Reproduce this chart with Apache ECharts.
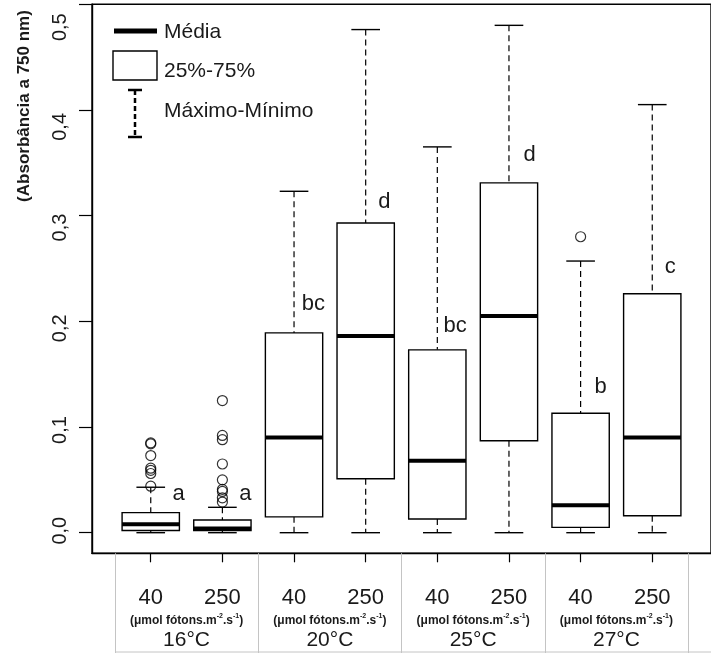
<!DOCTYPE html>
<html>
<head>
<meta charset="utf-8">
<script src="https://cdn.jsdelivr.net/npm/echarts@6/dist/echarts.min.js"></script>
<style>
html, body { margin: 0; padding: 0; background: #fff; }
#chart { width: 711px; height: 653px; }
</style>
</head>
<body>
<div id="chart"></div>
<script>
'use strict';
// categorias (luz) e grupos (temperatura)
var lightLabels = ['40', '250', '40', '250', '40', '250', '40', '250'];
var groupLabels = ['16°C', '20°C', '25°C', '27°C'];
var unitLabel = ['(μmol fótons.m', '-2', '.s', '-1', ')'];

// estatísticas das caixas
var mins    = [0.000, 0.000, 0.000, 0.000, 0.000, 0.000, 0.000, 0.000];
var q1s     = [0.002, 0.002, 0.015, 0.051, 0.013, 0.087, 0.005, 0.016];
var medians = [0.008, 0.004, 0.090, 0.186, 0.068, 0.205, 0.026, 0.090];
var q3s     = [0.019, 0.012, 0.189, 0.293, 0.173, 0.331, 0.113, 0.226];
var maxs    = [0.043, 0.024, 0.323, 0.476, 0.365, 0.480, 0.257, 0.405];

// pontos fora dos bigodes
var outlierCat = [1, 1, 1, 1, 1, 1, 1, 2, 2, 2, 2, 2, 2, 2, 2, 2, 7];
var outlierVal = [0.044, 0.056, 0.059, 0.061, 0.073, 0.084, 0.085,
                  0.029, 0.033, 0.039, 0.041, 0.050, 0.065, 0.088, 0.092, 0.125,
                  0.280];

// letras de significância
var letters = ['a', 'a', 'bc', 'd', 'bc', 'd', 'b', 'c'];
var letterX = [1.39, 2.32, 3.27, 4.26, 5.25, 6.29, 7.28, 8.25];
var letterY = [0.037, 0.037, 0.216, 0.313, 0.196, 0.357, 0.138, 0.251];

// rótulos do eixo y
var yTicks = [0, 0.1, 0.2, 0.3, 0.4, 0.5];
var yTickLabels = ['0,0', '0,1', '0,2', '0,3', '0,4', '0,5'];

var FONT = 'Liberation Sans, Arial, sans-serif';
var INK = '#1a1a1a';

var xPos = lightLabels.map(function (d, i) { return i + 1; });
var groupPos = groupLabels.map(function (d, i) { return i * 2 + 1.5; });
var groupEdges = [0.5, 2.5, 4.5, 6.5, 8.5];

var boxData = xPos.map(function (x, i) {
    return [x, mins[i], q1s[i], medians[i], q3s[i], maxs[i]];
});
var outlierData = outlierCat.map(function (c, i) { return [c, outlierVal[i]]; });
var letterData = letters.map(function (l, i) { return [letterX[i], letterY[i], l]; });

// deslocamento dos rótulos do eixo y (como no original)
var yLabelRich = {};
var yShift = [-2, 3, 7, 12, 17, 23];
yShift.forEach(function (s, i) {
    yLabelRich['s' + i] = {
        fontSize: 20,
        fontFamily: FONT,
        color: INK,
        padding: s >= 0 ? [0, 2 * s, 0, 0] : [0, 0, 0, -2 * s]
    };
});

function renderBox(params, api) {
    var x = api.value(0);
    var lo = api.coord([x, api.value(1)]);
    var b1 = api.coord([x, api.value(2)]);
    var md = api.coord([x, api.value(3)]);
    var b3 = api.coord([x, api.value(4)]);
    var hi = api.coord([x, api.value(5)]);
    var w = api.size([0.8, 0])[0];
    var cx = lo[0];
    var dash = { stroke: '#000', lineWidth: 1.2, lineDash: [6, 4] };
    var solid = { stroke: '#000', lineWidth: 1.4 };
    return {
        type: 'group',
        children: [
            { type: 'line', shape: { x1: cx, y1: hi[1], x2: cx, y2: b3[1] }, style: dash },
            { type: 'line', shape: { x1: cx, y1: b1[1], x2: cx, y2: lo[1] }, style: dash },
            { type: 'line', shape: { x1: cx - w / 4, y1: hi[1], x2: cx + w / 4, y2: hi[1] }, style: solid },
            { type: 'line', shape: { x1: cx - w / 4, y1: lo[1], x2: cx + w / 4, y2: lo[1] }, style: solid },
            { type: 'rect', shape: { x: cx - w / 2, y: b3[1], width: w, height: b1[1] - b3[1] },
              style: { fill: '#fff', stroke: '#000', lineWidth: 1.4 } },
            { type: 'line', shape: { x1: cx - w / 2, y1: md[1], x2: cx + w / 2, y2: md[1] },
              style: { stroke: '#000', lineWidth: 4 } }
        ]
    };
}

function renderLetter(params, api) {
    var p = api.coord([api.value(0), api.value(1)]);
    return {
        type: 'text',
        x: p[0],
        y: p[1],
        style: {
            text: letterData[params.dataIndex][2],
            font: '22px ' + FONT,
            fill: INK,
            align: 'center',
            verticalAlign: 'middle'
        }
    };
}

var chart = echarts.init(document.getElementById('chart'));
var option = {
    animation: false,
    backgroundColor: '#fff',
    grid: {
        show: true,
        left: 92,
        top: 4.2,
        right: -10,
        bottom: 99.7,
        borderColor: '#000',
        borderWidth: 1.4,
        backgroundColor: 'transparent'
    },
    xAxis: [{
        type: 'value',
        min: 0.18,
        max: 8.82,
        splitLine: { show: false },
        axisLine: { show: true, onZero: false, lineStyle: { color: '#000', width: 1.4 } },
        axisTick: { show: true, customValues: xPos, length: 9, lineStyle: { color: '#000', width: 1.2 } },
        axisLabel: {
            customValues: xPos,
            margin: 33,
            fontSize: 22,
            fontFamily: FONT,
            color: INK,
            lineHeight: 24,
            formatter: function (v) { return lightLabels[Math.round(v) - 1]; }
        }
    }, {
        type: 'value',
        min: 0.18,
        max: 8.82,
        position: 'bottom',
        splitLine: { show: false },
        axisLine: { show: false, onZero: false },
        axisTick: { show: true, customValues: groupEdges, length: 100, lineStyle: { color: '#c4c4c4', width: 1 } },
        axisLabel: {
            customValues: groupPos,
            margin: 59,
            formatter: function (v) {
                var g = groupLabels[Math.round((v - 1.5) / 2)];
                return '{u|' + unitLabel[0] + '}{p|' + unitLabel[1] + '}{u|' + unitLabel[2] +
                    '}{p|' + unitLabel[3] + '}{u|' + unitLabel[4] + '}\n{t|' + g + '}';
            },
            rich: {
                u: { fontSize: 12, fontWeight: 'bold', fontFamily: FONT, color: INK, lineHeight: 16 },
                p: { fontSize: 7, fontWeight: 'bold', fontFamily: FONT, color: INK, lineHeight: 16, verticalAlign: 'top' },
                t: { fontSize: 21, fontFamily: FONT, color: INK, lineHeight: 24 }
            }
        }
    }],
    yAxis: {
        type: 'value',
        min: -0.0195,
        max: 0.5,
        splitLine: { show: false },
        axisLine: { show: true, lineStyle: { color: '#000', width: 1.4 } },
        axisTick: { show: true, customValues: yTicks, length: 13, lineStyle: { color: '#000', width: 1.2 } },
        axisLabel: {
            customValues: yTicks,
            rotate: 90,
            margin: 22,
            fontSize: 20,
            fontFamily: FONT,
            color: INK,
            formatter: function (v) {
                var i = Math.round(v * 10);
                return '{s' + i + '|' + yTickLabels[i] + '}';
            },
            rich: yLabelRich
        }
    },
    graphic: [
        {
            type: 'text', x: 24, y: 106, rotation: Math.PI / 2,
            style: { text: '(Absorbância a 750 nm)', font: 'bold 17px ' + FONT, fill: INK, align: 'center', verticalAlign: 'middle' }
        },
        // legenda
        { type: 'line', shape: { x1: 114, y1: 31, x2: 157, y2: 31 }, style: { stroke: '#000', lineWidth: 5 } },
        { type: 'text', x: 164, y: 32, style: { text: 'Média', font: '21px ' + FONT, fill: INK, verticalAlign: 'middle' } },
        { type: 'rect', shape: { x: 113, y: 51, width: 44, height: 29 }, style: { fill: '#fff', stroke: '#000', lineWidth: 1.4 } },
        { type: 'text', x: 164, y: 71, style: { text: '25%-75%', font: '21px ' + FONT, fill: INK, verticalAlign: 'middle' } },
        { type: 'line', shape: { x1: 135, y1: 90, x2: 135, y2: 137 }, style: { stroke: '#000', lineWidth: 2.5, lineDash: [5, 3] } },
        { type: 'line', shape: { x1: 128, y1: 90, x2: 142, y2: 90 }, style: { stroke: '#000', lineWidth: 2.5 } },
        { type: 'line', shape: { x1: 128, y1: 137, x2: 142, y2: 137 }, style: { stroke: '#000', lineWidth: 2.5 } },
        { type: 'text', x: 164, y: 111, style: { text: 'Máximo-Mínimo', font: '21px ' + FONT, fill: INK, verticalAlign: 'middle' } },
        // borda inferior do painel de rótulos
        { type: 'line', shape: { x1: 115, y1: 652, x2: 711, y2: 652 }, style: { stroke: '#c4c4c4', lineWidth: 1 } }
    ],
    series: [{
        name: 'caixas',
        type: 'custom',
        renderItem: renderBox,
        encode: { x: 0, y: [1, 2, 3, 4, 5] },
        data: boxData,
        z: 2
    }, {
        name: 'outliers',
        type: 'scatter',
        symbol: 'circle',
        symbolSize: 10,
        itemStyle: { color: 'rgba(0,0,0,0)', borderColor: '#000', borderWidth: 1.2 },
        data: outlierData,
        z: 3
    }, {
        name: 'letras',
        type: 'custom',
        renderItem: renderLetter,
        encode: { x: 0, y: 1 },
        data: letterData,
        z: 4
    }]
};
chart.setOption(option);
</script>
</body>
</html>
